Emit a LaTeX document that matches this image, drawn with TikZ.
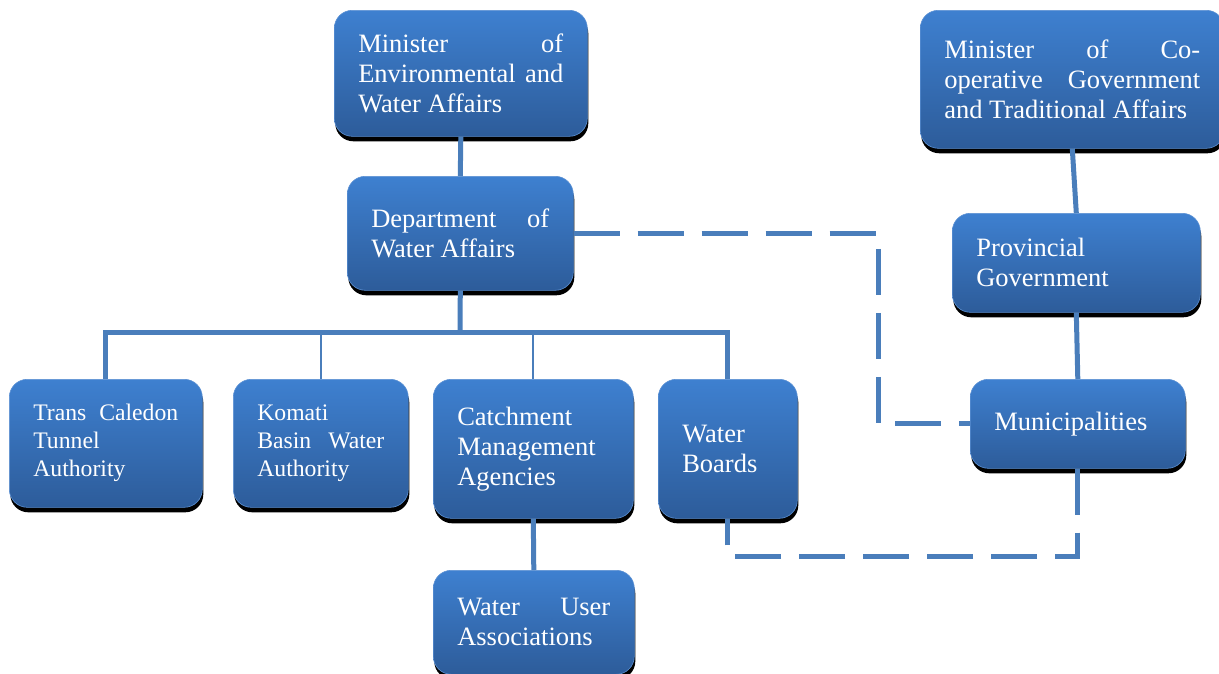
\documentclass[tikz,border=0pt]{standalone}
\usepackage{fontspec}
\setmainfont{Liberation Serif}
\usepackage{tikz}
\usetikzlibrary{positioning}
\usetikzlibrary{shadows}
\hbadness=10000
\definecolor{boxtop}{RGB}{62,128,208}
\definecolor{boxbottom}{RGB}{45,92,154}
\definecolor{boxedge}{RGB}{92,145,212}
\definecolor{linkblue}{RGB}{74,126,187}
\tikzset{
        unit/.style={rectangle, rounded corners=18pt, top color=boxtop, bottom color=boxbottom, draw=boxedge, line width=0.6pt, text=white, inner xsep=24pt, inner ysep=0pt, anchor=north west, align=justify, font=\fontsize{26.5}{30}\selectfont, general shadow={fill=black, shadow xshift=1pt, shadow yshift=-5pt}},
        small unit/.style={unit, font=\fontsize{23.7}{28}\selectfont},
        link/.style={draw=linkblue, line width=5pt},
        thin link/.style={draw=linkblue, line width=2pt},
        dash link/.style={draw=linkblue, line width=5pt, dash pattern=on 46pt off 18pt}
}

\begin{document}
\begin{tikzpicture}[x=1pt, y=1pt]
        \useasboundingbox (0,0) rectangle (1219,-673);
        \node [unit, text width=205pt, minimum height=126pt] (minEnv) at (334,-10) {Minister of\linebreak Environmental and\linebreak Water Affairs};
        \node [unit, text width=178pt, minimum height=114pt] (dwa) at (347,-176) {Department of\linebreak Water Affairs};
        \node [unit, text width=256pt, minimum height=138pt] (minCog) at (920,-10) {Minister of Co-\linebreak operative Government\linebreak and Traditional Affairs};
        \node [unit, text width=200pt, minimum height=99pt] (prov) at (952,-213) {Provincial\\ Government};
        \node [unit, text width=167pt, minimum height=89pt] (muni) at (970,-379) {Municipalities};
        \node [small unit, text width=145pt, minimum height=128pt] (tct) at (9,-379) {Trans Caledon\linebreak Tunnel\\ Authority};
        \node [small unit, text width=127pt, minimum height=128pt] (kbwa) at (233,-379) {Komati\\ Basin Water\linebreak Authority};
        \node [unit, align=left, text width=152pt, minimum height=139pt] (cma) at (433,-379) {Catchment\\ Management\\ Agencies};
        \node [unit, align=left, text width=91pt, minimum height=139pt] (wb) at (658,-379) {Water\\ Boards};
        \node [unit, text width=153pt, minimum height=104pt] (wua) at (433,-570) {Water User\linebreak Associations};
        \coordinate (bus) at (460,-332);
        \coordinate (dashx) at (878,0);
        \coordinate (dashy) at (0,-556);
        \draw[link] (minEnv.south) -- (dwa.north);
        \draw[link] (dwa.south) -- (bus);
        \draw[link] (tct.north) |- (bus) -| (wb.north);
        \draw[thin link] (kbwa.north) -- (kbwa.north |- bus);
        \draw[thin link] (cma.north) -- (cma.north |- bus);
        \draw[link] (cma.south) -- (wua.north);
        \draw[link] (minCog.south) -- (prov.north);
        \draw[link] (prov.south) -- (muni.north);
        \draw[dash link] (dwa.east) -| (dashx |- muni.west) -- (muni.west);
        \draw[dash link] (muni.south) |- (wb.south |- dashy) -- (wb.south);
    \end{tikzpicture}
\end{document}
